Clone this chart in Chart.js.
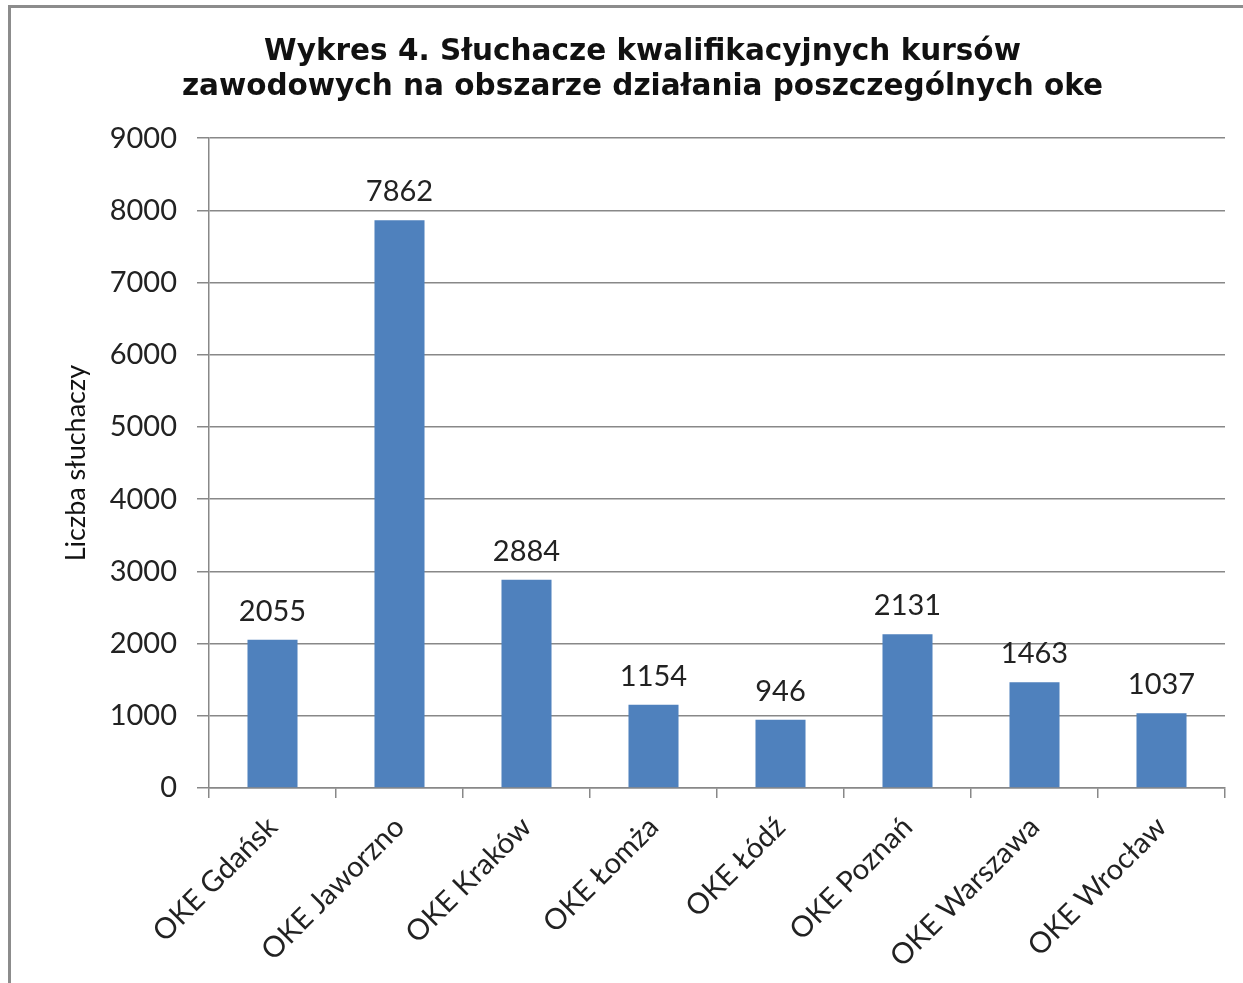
<!DOCTYPE html>
<html>
<head>
<meta charset="utf-8">
<script src="https://cdn.jsdelivr.net/npm/chart.js@4/dist/chart.umd.min.js"></script>
<style>
  html, body { margin: 0; padding: 0; background: #fff; }
  #frame { position: absolute; left: 8px; top: 5px; width: 1240px; height: 980px;
           border-left: 3px solid #8c8c8c; border-top: 3px solid #8c8c8c; pointer-events: none; }
  #wrap { position: absolute; left: 0; top: 0; width: 1243px; height: 983px; }
</style>
</head>
<body>
<div id="wrap"><canvas id="chart" width="1243" height="983"></canvas></div>
<div id="frame"></div>
<script>
// dane z wykresu
const categories = ['OKE Gdańsk', 'OKE Jaworzno', 'OKE Kraków', 'OKE Łomża', 'OKE Łódź', 'OKE Poznań', 'OKE Warszawa', 'OKE Wrocław'];
const listeners = [2055, 7862, 2884, 1154, 946, 2131, 1463, 1037];
const yTicks = [0, 1000, 2000, 3000, 4000, 5000, 6000, 7000, 8000, 9000];

const titleLines = ['Wykres 4. Słuchacze kwalifikacyjnych kursów', 'zawodowych na obszarze działania poszczególnych oke'];
const yTitle = 'Liczba słuchaczy';

// napisy z wartościami nad słupkami
const valueLabels = {
  id: 'valueLabels',
  afterDatasetsDraw(chart) {
    const ctx = chart.ctx;
    const meta = chart.getDatasetMeta(0);
    ctx.save();
    ctx.font = '29px Lato';
    ctx.fillStyle = '#222';
    ctx.textAlign = 'center';
    ctx.textBaseline = 'alphabetic';
    meta.data.forEach((bar, i) => {
      ctx.fillText(String(listeners[i]), bar.x, bar.y - 19);
    });
    ctx.restore();
  }
};

new Chart(document.getElementById('chart'), {
  type: 'bar',
  data: {
    labels: categories,
    datasets: [{
      label: 'Liczba słuchaczy',
      data: listeners,
      backgroundColor: '#4F81BD',
      barPercentage: 0.394,
      categoryPercentage: 1.0
    }]
  },
  options: {
    responsive: false,
    animation: false,
    layout: { padding: { left: 60, right: 18, top: 0, bottom: 0 } },
    plugins: {
      legend: { display: false },
      tooltip: { enabled: false },
      title: {
        display: true,
        text: titleLines,
        color: '#111',
        font: { family: 'DejaVu Sans', size: 29.5, weight: 'bold', lineHeight: 1.19 },
        padding: { top: 35, bottom: 33 }
      }
    },
    scales: {
      x: {
        offset: true,
        grid: { offset: true, drawOnChartArea: false, drawTicks: true, tickLength: 10, color: '#888', lineWidth: 1.5 },
        border: { display: true, color: '#888', width: 1.5 },
        ticks: {
          color: '#222',
          font: { family: 'Lato', size: 29 },
          minRotation: 45,
          maxRotation: 45,
          padding: 12
        },
        afterFit(scale) { scale.height = 983 - 788; }
      },
      y: {
        min: 0,
        max: 9000,
        afterBuildTicks(scale) { scale.ticks = yTicks.map(v => ({ value: v })); },
        grid: { color: '#888', lineWidth: 1.5, drawTicks: true, tickLength: 12 },
        border: { display: true, color: '#888', width: 1.5 },
        ticks: {
          color: '#222',
          font: { family: 'Lato', size: 29 },
          padding: 20,
          callback: (v) => String(v)
        },
        title: {
          display: true,
          text: yTitle,
          color: '#111',
          font: { family: 'Lato', size: 27 },
          padding: 0
        },
        afterFit(scale) { scale.width = 209 - 60; }
      }
    }
  },
  plugins: [valueLabels]
});
</script>
</body>
</html>
